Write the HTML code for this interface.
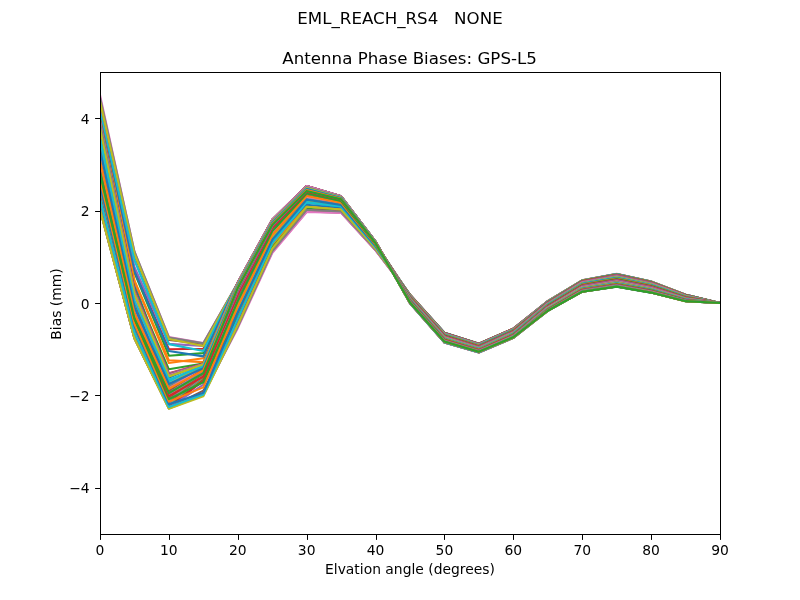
<!DOCTYPE html>
<html lang="en"><head><meta charset="utf-8"><title>Antenna Phase Biases: GPS-L5</title>
<style>
html,body{margin:0;padding:0;background:#fff;}
body{width:800px;height:600px;overflow:hidden;}
svg{display:block;}
text{font-family:"DejaVu Sans","Liberation Sans",sans-serif;fill:#000;white-space:pre;}
.t10{font-size:13.889px;}
.t12{font-size:16.667px;}
.ln path{fill:none;stroke-width:2.083;stroke-linejoin:round;stroke-linecap:square;}
.tk{stroke:#000;stroke-width:1;fill:none;}
</style></head><body>
<svg width="800" height="600" viewBox="0 0 800 600">
<rect x="0" y="0" width="800" height="600" fill="#fff"/>
<defs><clipPath id="ax"><rect x="100" y="72" width="620" height="462"/></clipPath></defs>
<text class="t12" x="400" y="24.37" text-anchor="middle">EML_REACH_RS4   NONE</text>
<text class="t12" x="409.6" y="63.67" text-anchor="middle">Antenna Phase Biases: GPS-L5</text>
<g class="ln" clip-path="url(#ax)">
<path d="M100.00 171.70 L134.44 318.71 L168.89 393.09 L203.33 373.22 L237.78 287.93 L272.22 224.92 L306.67 190.92 L341.11 199.37 L375.56 243.18 L410.00 302.46 L444.44 341.62 L478.89 351.64 L513.33 337.26 L547.78 310.78 L582.22 291.68 L616.67 286.60 L651.11 292.61 L685.56 301.15 L720.00 303.00" stroke="#1f77b4"/>
<path d="M100.00 173.41 L134.44 319.86 L168.89 393.55 L203.33 373.41 L237.78 288.02 L272.22 224.92 L306.67 190.85 L341.11 199.33 L375.56 243.16 L410.00 302.23 L444.44 341.37 L478.89 351.41 L513.33 337.05 L547.78 310.69 L582.22 291.66 L616.67 286.57 L651.11 292.58 L685.56 301.14 L720.00 303.00" stroke="#ff7f0e"/>
<path d="M100.00 175.72 L134.44 321.02 L168.89 394.01 L203.33 373.59 L237.78 288.11 L272.22 224.91 L306.67 190.79 L341.11 199.28 L375.56 243.14 L410.00 301.98 L444.44 341.08 L478.89 351.15 L513.33 336.80 L547.78 310.56 L582.22 291.60 L616.67 286.50 L651.11 292.52 L685.56 301.10 L720.00 303.00" stroke="#2ca02c"/>
<path d="M100.00 178.72 L134.44 322.17 L168.89 394.48 L203.33 373.78 L237.78 288.20 L272.22 224.90 L306.67 190.72 L341.11 199.24 L375.56 243.12 L410.00 301.70 L444.44 340.77 L478.89 350.87 L513.33 336.53 L547.78 310.40 L582.22 291.49 L616.67 286.38 L651.11 292.42 L685.56 301.04 L720.00 303.00" stroke="#d62728"/>
<path d="M100.00 192.35 L134.44 329.33 L168.89 394.94 L203.33 373.96 L237.78 288.30 L272.22 224.89 L306.67 190.66 L341.11 199.20 L375.56 243.10 L410.00 301.41 L444.44 340.43 L478.89 350.56 L513.33 336.23 L547.78 310.20 L582.22 291.34 L616.67 286.22 L651.11 292.27 L685.56 300.96 L720.00 303.00" stroke="#9467bd"/>
<path d="M100.00 194.20 L134.44 330.26 L168.89 395.40 L203.33 374.15 L237.78 288.39 L272.22 224.88 L306.67 190.60 L341.11 199.16 L375.56 243.07 L410.00 301.09 L444.44 340.08 L478.89 350.24 L513.33 335.91 L547.78 309.98 L582.22 291.15 L616.67 286.00 L651.11 292.09 L685.56 300.85 L720.00 303.00" stroke="#8c564b"/>
<path d="M100.00 194.75 L134.44 330.63 L168.89 395.86 L203.33 374.33 L237.78 288.48 L272.22 224.87 L306.67 190.53 L341.11 199.12 L375.56 243.05 L410.00 300.76 L444.44 339.70 L478.89 349.90 L513.33 335.57 L547.78 309.72 L582.22 290.92 L616.67 285.75 L651.11 291.86 L685.56 300.72 L720.00 303.00" stroke="#e377c2"/>
<path d="M100.00 195.31 L134.44 331.00 L168.89 396.32 L203.33 374.52 L237.78 288.57 L272.22 224.87 L306.67 190.47 L341.11 199.08 L375.56 243.03 L410.00 300.42 L444.44 339.31 L478.89 349.55 L513.33 335.21 L547.78 309.43 L582.22 290.66 L616.67 285.45 L651.11 291.60 L685.56 300.57 L720.00 303.00" stroke="#7f7f7f"/>
<path d="M100.00 195.86 L134.44 331.37 L168.89 396.79 L203.33 374.70 L237.78 288.66 L272.22 224.86 L306.67 190.40 L341.11 199.03 L375.56 243.01 L410.00 300.06 L444.44 338.91 L478.89 349.18 L513.33 334.84 L547.78 309.12 L582.22 290.36 L616.67 285.11 L651.11 291.31 L685.56 300.40 L720.00 303.00" stroke="#bcbd22"/>
<path d="M100.00 196.42 L134.44 331.74 L168.89 397.25 L203.33 374.89 L237.78 288.75 L272.22 224.85 L306.67 190.34 L341.11 198.99 L375.56 242.99 L410.00 299.70 L444.44 338.49 L478.89 348.81 L513.33 334.46 L547.78 308.79 L582.22 290.02 L616.67 284.74 L651.11 290.98 L685.56 300.20 L720.00 303.00" stroke="#17becf"/>
<path d="M100.00 196.97 L134.44 332.11 L168.89 397.71 L203.33 375.07 L237.78 288.84 L272.22 224.84 L306.67 190.27 L341.11 198.95 L375.56 242.96 L410.00 299.33 L444.44 338.07 L478.89 348.43 L513.33 334.06 L547.78 308.43 L582.22 289.66 L616.67 284.33 L651.11 290.62 L685.56 300.00 L720.00 303.00" stroke="#1f77b4"/>
<path d="M100.00 197.53 L134.44 332.38 L168.89 398.17 L203.33 375.26 L237.78 289.12 L272.22 225.00 L306.67 190.36 L341.11 199.01 L375.56 243.00 L410.00 298.96 L444.44 337.65 L478.89 348.05 L513.33 333.66 L547.78 308.05 L582.22 289.27 L616.67 283.89 L651.11 290.24 L685.56 299.77 L720.00 303.00" stroke="#ff7f0e"/>
<path d="M100.00 198.08 L134.44 332.66 L168.89 398.63 L203.33 375.44 L237.78 289.39 L272.22 225.16 L306.67 190.46 L341.11 199.07 L375.56 243.03 L410.00 298.59 L444.44 337.23 L478.89 347.66 L513.33 333.26 L547.78 307.66 L582.22 288.85 L616.67 283.42 L651.11 289.83 L685.56 299.54 L720.00 303.00" stroke="#2ca02c"/>
<path d="M100.00 198.63 L134.44 332.94 L168.89 399.10 L203.33 375.63 L237.78 289.67 L272.22 225.32 L306.67 190.55 L341.11 199.13 L375.56 243.06 L410.00 298.22 L444.44 336.81 L478.89 347.28 L513.33 332.86 L547.78 307.26 L582.22 288.41 L616.67 282.93 L651.11 289.40 L685.56 299.28 L720.00 303.00" stroke="#d62728"/>
<path d="M100.00 199.19 L134.44 333.21 L168.89 399.56 L203.33 375.81 L237.78 289.94 L272.22 225.48 L306.67 190.64 L341.11 199.19 L375.56 243.09 L410.00 297.85 L444.44 336.39 L478.89 346.91 L513.33 332.46 L547.78 306.85 L582.22 287.96 L616.67 282.42 L651.11 288.96 L685.56 299.02 L720.00 303.00" stroke="#9467bd"/>
<path d="M100.00 199.74 L134.44 333.49 L168.89 400.02 L203.33 376.00 L237.78 290.22 L272.22 225.64 L306.67 190.73 L341.11 199.25 L375.56 243.12 L410.00 297.50 L444.44 335.99 L478.89 346.54 L513.33 332.07 L547.78 306.43 L582.22 287.49 L616.67 281.89 L651.11 288.50 L685.56 298.76 L720.00 303.00" stroke="#8c564b"/>
<path d="M100.00 200.30 L134.44 333.77 L168.89 400.48 L203.33 376.18 L237.78 290.49 L272.22 225.80 L306.67 190.83 L341.11 199.31 L375.56 243.15 L410.00 297.15 L444.44 335.60 L478.89 346.19 L513.33 331.68 L547.78 306.00 L582.22 287.00 L616.67 281.35 L651.11 288.02 L685.56 298.48 L720.00 303.00" stroke="#e377c2"/>
<path d="M100.00 200.85 L134.44 334.05 L168.89 400.94 L203.33 376.37 L237.78 290.77 L272.22 225.96 L306.67 190.92 L341.11 199.37 L375.56 243.18 L410.00 296.82 L444.44 335.22 L478.89 345.85 L513.33 331.31 L547.78 305.58 L582.22 286.51 L616.67 280.80 L651.11 287.54 L685.56 298.20 L720.00 303.00" stroke="#7f7f7f"/>
<path d="M100.00 201.41 L134.44 334.32 L168.89 401.41 L203.33 376.55 L237.78 291.04 L272.22 226.12 L306.67 191.01 L341.11 199.43 L375.56 243.22 L410.00 296.51 L444.44 334.87 L478.89 345.53 L513.33 330.95 L547.78 305.16 L582.22 286.02 L616.67 280.25 L651.11 287.06 L685.56 297.92 L720.00 303.00" stroke="#bcbd22"/>
<path d="M100.00 201.96 L134.44 334.60 L168.89 401.87 L203.33 376.74 L237.78 291.31 L272.22 226.27 L306.67 191.10 L341.11 199.49 L375.56 243.25 L410.00 296.21 L444.44 334.53 L478.89 345.22 L513.33 330.61 L547.78 304.75 L582.22 285.53 L616.67 279.69 L651.11 286.58 L685.56 297.64 L720.00 303.00" stroke="#17becf"/>
<path d="M100.00 202.51 L134.44 334.88 L168.89 402.33 L203.33 376.92 L237.78 291.59 L272.22 226.43 L306.67 191.20 L341.11 199.54 L375.56 243.28 L410.00 295.94 L444.44 334.22 L478.89 344.94 L513.33 330.29 L547.78 304.34 L582.22 285.04 L616.67 279.14 L651.11 286.10 L685.56 297.36 L720.00 303.00" stroke="#1f77b4"/>
<path d="M100.00 203.07 L134.44 335.16 L168.89 402.75 L203.33 377.10 L237.78 293.11 L272.22 227.43 L306.67 191.89 L341.11 199.99 L375.56 243.51 L410.00 295.68 L444.44 333.93 L478.89 344.68 L513.33 329.99 L547.78 303.95 L582.22 284.56 L616.67 278.60 L651.11 285.63 L685.56 297.08 L720.00 303.00" stroke="#ff7f0e"/>
<path d="M100.00 203.62 L134.44 335.43 L168.89 403.16 L203.33 377.29 L237.78 294.64 L272.22 228.43 L306.67 192.58 L341.11 200.44 L375.56 243.75 L410.00 295.46 L444.44 333.68 L478.89 344.45 L513.33 329.72 L547.78 303.58 L582.22 284.09 L616.67 278.07 L651.11 285.16 L685.56 296.81 L720.00 303.00" stroke="#2ca02c"/>
<path d="M100.00 204.18 L134.44 335.71 L168.89 403.58 L203.33 377.47 L237.78 296.16 L272.22 229.58 L306.67 193.51 L341.11 201.03 L375.56 244.06 L410.00 295.26 L444.44 333.45 L478.89 344.24 L513.33 329.48 L547.78 303.22 L582.22 283.63 L616.67 277.56 L651.11 284.72 L685.56 296.55 L720.00 303.00" stroke="#d62728"/>
<path d="M100.00 204.73 L134.44 335.99 L168.89 403.99 L203.33 377.66 L237.78 297.69 L272.22 230.73 L306.67 194.43 L341.11 201.62 L375.56 244.38 L410.00 295.08 L444.44 333.25 L478.89 344.07 L513.33 329.26 L547.78 302.88 L582.22 283.19 L616.67 277.07 L651.11 284.29 L685.56 296.30 L720.00 303.00" stroke="#9467bd"/>
<path d="M100.00 205.29 L134.44 336.26 L168.89 404.41 L203.33 377.84 L237.78 299.21 L272.22 232.18 L306.67 195.82 L341.11 202.51 L375.56 244.85 L410.00 294.94 L444.44 333.09 L478.89 343.92 L513.33 329.07 L547.78 302.57 L582.22 282.78 L616.67 276.60 L651.11 283.88 L685.56 296.06 L720.00 303.00" stroke="#8c564b"/>
<path d="M100.00 205.84 L134.44 336.54 L168.89 404.82 L203.33 378.03 L237.78 300.74 L272.22 233.62 L306.67 197.20 L341.11 203.41 L375.56 245.32 L410.00 294.83 L444.44 332.96 L478.89 343.81 L513.33 328.92 L547.78 302.29 L582.22 282.38 L616.67 276.16 L651.11 283.50 L685.56 295.84 L720.00 303.00" stroke="#e377c2"/>
<path d="M100.00 206.40 L134.44 336.82 L168.89 405.24 L203.33 378.21 L237.78 303.59 L272.22 235.77 L306.67 198.93 L341.11 204.52 L375.56 245.90 L410.00 294.75 L444.44 332.87 L478.89 343.72 L513.33 328.80 L547.78 302.03 L582.22 282.02 L616.67 275.75 L651.11 283.14 L685.56 295.63 L720.00 303.00" stroke="#7f7f7f"/>
<path d="M100.00 206.95 L134.44 337.10 L168.89 405.66 L203.33 378.40 L237.78 306.45 L272.22 237.93 L306.67 200.67 L341.11 205.63 L375.56 246.49 L410.00 294.70 L444.44 332.82 L478.89 343.67 L513.33 328.71 L547.78 301.80 L582.22 281.69 L616.67 275.38 L651.11 282.81 L685.56 295.44 L720.00 303.00" stroke="#bcbd22"/>
<path d="M100.00 207.50 L134.44 337.37 L168.89 406.07 L203.33 378.58 L237.78 309.31 L272.22 240.30 L306.67 202.75 L341.11 206.97 L375.56 247.20 L410.00 294.68 L444.44 332.80 L478.89 343.66 L513.33 328.66 L547.78 301.61 L582.22 281.39 L616.67 275.04 L651.11 282.52 L685.56 295.27 L720.00 303.00" stroke="#17becf"/>
<path d="M100.00 208.06 L134.44 337.65 L168.89 406.49 L203.33 378.77 L237.78 312.17 L272.22 242.68 L306.67 204.82 L341.11 208.31 L375.56 247.90 L410.00 294.70 L444.44 332.82 L478.89 343.67 L513.33 328.64 L547.78 301.44 L582.22 281.12 L616.67 274.75 L651.11 282.26 L685.56 295.12 L720.00 303.00" stroke="#1f77b4"/>
<path d="M100.00 208.29 L134.44 337.77 L168.89 406.78 L203.33 379.38 L237.78 315.26 L272.22 245.06 L306.67 206.79 L341.11 209.57 L375.56 248.57 L410.00 294.75 L444.44 332.87 L478.89 343.72 L513.33 328.66 L547.78 301.32 L582.22 280.89 L616.67 274.49 L651.11 282.04 L685.56 294.99 L720.00 303.00" stroke="#ff7f0e"/>
<path d="M100.00 208.52 L134.44 337.88 L168.89 407.07 L203.33 380.00 L237.78 318.35 L272.22 247.45 L306.67 208.75 L341.11 210.83 L375.56 249.23 L410.00 294.83 L444.44 332.96 L478.89 343.81 L513.33 328.71 L547.78 301.23 L582.22 280.70 L616.67 274.28 L651.11 281.85 L685.56 294.88 L720.00 303.00" stroke="#2ca02c"/>
<path d="M100.00 208.75 L134.44 338.00 L168.89 407.35 L203.33 380.62 L237.78 321.43 L272.22 249.31 L306.67 209.91 L341.11 211.57 L375.56 249.63 L410.00 294.94 L444.44 333.09 L478.89 343.92 L513.33 328.80 L547.78 301.17 L582.22 280.55 L616.67 274.11 L651.11 281.71 L685.56 294.79 L720.00 303.00" stroke="#d62728"/>
<path d="M100.00 208.98 L134.44 338.11 L168.89 407.64 L203.33 384.68 L237.78 324.52 L272.22 251.18 L306.67 211.06 L341.11 212.32 L375.56 250.02 L410.00 295.08 L444.44 333.25 L478.89 344.07 L513.33 328.92 L547.78 301.15 L582.22 280.45 L616.67 273.99 L651.11 281.60 L685.56 294.73 L720.00 303.00" stroke="#9467bd"/>
<path d="M100.00 209.21 L134.44 338.23 L168.89 407.93 L203.33 390.69 L237.78 326.35 L272.22 252.14 L306.67 211.52 L341.11 212.61 L375.56 250.18 L410.00 295.26 L444.44 333.45 L478.89 344.24 L513.33 329.07 L547.78 301.17 L582.22 280.38 L616.67 273.92 L651.11 281.54 L685.56 294.70 L720.00 303.00" stroke="#8c564b"/>
<path d="M100.00 209.44 L134.44 338.34 L168.89 408.22 L203.33 393.55 L237.78 328.18 L272.22 253.10 L306.67 211.99 L341.11 212.91 L375.56 250.33 L410.00 295.46 L444.44 333.68 L478.89 344.45 L513.33 329.26 L547.78 301.23 L582.22 280.36 L616.67 273.89 L651.11 281.52 L685.56 294.68 L720.00 303.00" stroke="#e377c2"/>
<path d="M100.00 209.68 L134.44 338.46 L168.89 408.51 L203.33 395.40 L237.78 326.81 L272.22 251.21 L306.67 209.81 L341.11 211.51 L375.56 249.60 L410.00 295.68 L444.44 333.93 L478.89 344.68 L513.33 329.48 L547.78 301.32 L582.22 280.38 L616.67 273.92 L651.11 281.54 L685.56 294.70 L720.00 303.00" stroke="#7f7f7f"/>
<path d="M100.00 209.91 L134.44 338.57 L168.89 408.80 L203.33 396.32 L237.78 324.98 L272.22 248.61 L306.67 206.81 L341.11 209.58 L375.56 248.58 L410.00 295.94 L444.44 334.22 L478.89 344.94 L513.33 329.72 L547.78 301.44 L582.22 280.45 L616.67 273.99 L651.11 281.60 L685.56 294.73 L720.00 303.00" stroke="#bcbd22"/>
<path d="M100.00 199.10 L134.44 332.57 L168.89 406.95 L203.33 394.48 L237.78 319.03 L272.22 243.36 L306.67 202.01 L341.11 206.49 L375.56 246.95 L410.00 296.21 L444.44 334.53 L478.89 345.22 L513.33 329.99 L547.78 301.61 L582.22 280.55 L616.67 274.11 L651.11 281.71 L685.56 294.79 L720.00 303.00" stroke="#17becf"/>
<path d="M100.00 185.65 L134.44 326.10 L168.89 404.18 L203.33 392.81 L237.78 312.86 L272.22 239.57 L306.67 199.60 L341.11 204.95 L375.56 246.13 L410.00 296.51 L444.44 334.87 L478.89 345.53 L513.33 330.29 L547.78 301.80 L582.22 280.70 L616.67 274.28 L651.11 281.85 L685.56 294.88 L720.00 303.00" stroke="#1f77b4"/>
<path d="M100.00 179.41 L134.44 323.79 L168.89 401.64 L203.33 387.41 L237.78 306.68 L272.22 235.01 L306.67 196.00 L341.11 202.63 L375.56 244.91 L410.00 296.82 L444.44 335.22 L478.89 345.85 L513.33 330.61 L547.78 302.03 L582.22 280.89 L616.67 274.49 L651.11 282.04 L685.56 294.99 L720.00 303.00" stroke="#ff7f0e"/>
<path d="M100.00 173.78 L134.44 318.25 L168.89 399.10 L203.33 382.28 L237.78 300.74 L272.22 231.24 L306.67 193.51 L341.11 201.03 L375.56 244.06 L410.00 297.15 L444.44 335.60 L478.89 346.19 L513.33 330.95 L547.78 302.29 L582.22 281.12 L616.67 274.75 L651.11 282.26 L685.56 295.12 L720.00 303.00" stroke="#2ca02c"/>
<path d="M100.00 168.14 L134.44 312.70 L168.89 396.09 L203.33 376.60 L237.78 294.56 L272.22 227.81 L306.67 191.66 L341.11 199.84 L375.56 243.44 L410.00 297.50 L444.44 335.99 L478.89 346.54 L513.33 331.31 L547.78 302.57 L582.22 281.39 L616.67 275.04 L651.11 282.52 L685.56 295.27 L720.00 303.00" stroke="#d62728"/>
<path d="M100.00 162.51 L134.44 307.16 L168.89 393.09 L203.33 371.38 L237.78 291.59 L272.22 226.14 L306.67 190.73 L341.11 199.25 L375.56 243.12 L410.00 297.85 L444.44 336.39 L478.89 346.91 L513.33 331.68 L547.78 302.88 L582.22 281.69 L616.67 275.38 L651.11 282.81 L685.56 295.44 L720.00 303.00" stroke="#9467bd"/>
<path d="M100.00 156.87 L134.44 301.61 L168.89 390.78 L203.33 368.60 L237.78 290.22 L272.22 225.04 L306.67 189.81 L341.11 198.65 L375.56 242.81 L410.00 298.22 L444.44 336.81 L478.89 347.28 L513.33 332.07 L547.78 303.22 L582.22 282.02 L616.67 275.75 L651.11 283.14 L685.56 295.63 L720.00 303.00" stroke="#8c564b"/>
<path d="M100.00 151.23 L134.44 296.07 L168.89 388.47 L203.33 366.76 L237.78 288.84 L272.22 224.25 L306.67 189.35 L341.11 198.36 L375.56 242.65 L410.00 298.59 L444.44 337.23 L478.89 347.66 L513.33 332.46 L547.78 303.58 L582.22 282.38 L616.67 276.16 L651.11 283.50 L685.56 295.84 L720.00 303.00" stroke="#e377c2"/>
<path d="M100.00 145.60 L134.44 291.91 L168.89 386.16 L203.33 365.83 L237.78 288.04 L272.22 223.66 L306.67 188.89 L341.11 198.06 L375.56 242.49 L410.00 298.96 L444.44 337.65 L478.89 348.05 L513.33 332.86 L547.78 303.95 L582.22 282.78 L616.67 276.60 L651.11 283.88 L685.56 296.06 L720.00 303.00" stroke="#7f7f7f"/>
<path d="M100.00 139.96 L134.44 288.68 L168.89 383.85 L203.33 364.91 L237.78 287.24 L272.22 223.07 L306.67 188.42 L341.11 197.76 L375.56 242.34 L410.00 299.33 L444.44 338.07 L478.89 348.43 L513.33 333.26 L547.78 304.34 L582.22 283.19 L616.67 277.07 L651.11 284.29 L685.56 296.30 L720.00 303.00" stroke="#bcbd22"/>
<path d="M100.00 134.32 L134.44 286.37 L168.89 381.54 L203.33 363.98 L237.78 286.44 L272.22 222.48 L306.67 187.96 L341.11 197.47 L375.56 242.18 L410.00 299.70 L444.44 338.49 L478.89 348.81 L513.33 333.66 L547.78 304.75 L582.22 283.63 L616.67 277.56 L651.11 284.72 L685.56 296.55 L720.00 303.00" stroke="#17becf"/>
<path d="M100.00 128.69 L134.44 284.06 L168.89 377.84 L203.33 363.06 L237.78 285.64 L272.22 221.90 L306.67 187.50 L341.11 197.17 L375.56 242.02 L410.00 300.06 L444.44 338.91 L478.89 349.18 L513.33 334.06 L547.78 305.16 L582.22 284.09 L616.67 278.07 L651.11 285.16 L685.56 296.81 L720.00 303.00" stroke="#1f77b4"/>
<path d="M100.00 123.05 L134.44 281.29 L168.89 363.06 L203.33 358.21 L237.78 285.19 L272.22 221.61 L306.67 187.31 L341.11 197.05 L375.56 241.96 L410.00 300.42 L444.44 339.31 L478.89 349.55 L513.33 334.46 L547.78 305.58 L582.22 284.56 L616.67 278.60 L651.11 285.63 L685.56 297.08 L720.00 303.00" stroke="#ff7f0e"/>
<path d="M100.00 117.41 L134.44 272.51 L168.89 355.67 L203.33 353.13 L237.78 284.73 L272.22 221.32 L306.67 187.12 L341.11 196.92 L375.56 241.89 L410.00 300.76 L444.44 339.70 L478.89 349.90 L513.33 334.84 L547.78 306.00 L582.22 285.04 L616.67 279.14 L651.11 286.10 L685.56 297.36 L720.00 303.00" stroke="#2ca02c"/>
<path d="M100.00 111.78 L134.44 270.66 L168.89 349.20 L203.33 348.74 L237.78 284.27 L272.22 221.03 L306.67 186.92 L341.11 196.80 L375.56 241.83 L410.00 301.09 L444.44 340.08 L478.89 350.24 L513.33 335.21 L547.78 306.43 L582.22 285.53 L616.67 279.69 L651.11 286.58 L685.56 297.64 L720.00 303.00" stroke="#d62728"/>
<path d="M100.00 106.14 L134.44 266.96 L168.89 343.89 L203.33 345.97 L237.78 283.81 L272.22 220.73 L306.67 186.73 L341.11 196.67 L375.56 241.76 L410.00 301.41 L444.44 340.43 L478.89 350.56 L513.33 335.57 L547.78 306.85 L582.22 286.02 L616.67 280.25 L651.11 287.06 L685.56 297.92 L720.00 303.00" stroke="#9467bd"/>
<path d="M100.00 100.51 L134.44 255.41 L168.89 339.96 L203.33 343.89 L237.78 283.36 L272.22 220.44 L306.67 186.54 L341.11 196.55 L375.56 241.70 L410.00 301.70 L444.44 340.77 L478.89 350.87 L513.33 335.91 L547.78 307.26 L582.22 286.51 L616.67 280.80 L651.11 287.54 L685.56 298.20 L720.00 303.00" stroke="#8c564b"/>
<path d="M100.00 94.87 L134.44 251.72 L168.89 336.96 L203.33 342.96 L237.78 282.90 L272.22 220.15 L306.67 186.34 L341.11 196.43 L375.56 241.63 L410.00 301.98 L444.44 341.08 L478.89 351.15 L513.33 336.23 L547.78 307.66 L582.22 287.00 L616.67 281.35 L651.11 288.02 L685.56 298.48 L720.00 303.00" stroke="#e377c2"/>
<path d="M100.00 97.41 L134.44 251.49 L168.89 337.42 L203.33 343.19 L237.78 282.78 L272.22 220.08 L306.67 186.29 L341.11 196.39 L375.56 241.61 L410.00 302.23 L444.44 341.37 L478.89 351.41 L513.33 336.53 L547.78 308.05 L582.22 287.49 L616.67 281.89 L651.11 288.50 L685.56 298.76 L720.00 303.00" stroke="#7f7f7f"/>
<path d="M100.00 101.57 L134.44 254.03 L168.89 339.04 L203.33 345.97 L237.78 282.67 L272.22 220.00 L306.67 186.23 L341.11 196.35 L375.56 241.59 L410.00 302.46 L444.44 341.62 L478.89 351.64 L513.33 336.80 L547.78 308.43 L582.22 287.96 L616.67 282.42 L651.11 288.96 L685.56 299.02 L720.00 303.00" stroke="#bcbd22"/>
<path d="M100.00 112.42 L134.44 260.26 L168.89 344.12 L203.33 351.05 L237.78 282.56 L272.22 219.92 L306.67 186.17 L341.11 196.32 L375.56 241.57 L410.00 302.66 L444.44 341.85 L478.89 351.85 L513.33 337.05 L547.78 308.79 L582.22 288.41 L616.67 282.93 L651.11 289.40 L685.56 299.28 L720.00 303.00" stroke="#17becf"/>
<path d="M100.00 118.43 L134.44 271.35 L168.89 351.05 L203.33 356.36 L237.78 282.44 L272.22 219.84 L306.67 186.11 L341.11 196.28 L375.56 241.55 L410.00 302.83 L444.44 342.05 L478.89 352.02 L513.33 337.26 L547.78 309.12 L582.22 288.85 L616.67 283.42 L651.11 289.83 L685.56 299.54 L720.00 303.00" stroke="#1f77b4"/>
<path d="M100.00 119.35 L134.44 280.36 L168.89 360.29 L203.33 362.14 L237.78 282.44 L272.22 219.84 L306.67 186.11 L341.11 196.28 L375.56 241.55 L410.00 302.97 L444.44 342.21 L478.89 352.17 L513.33 337.45 L547.78 309.43 L582.22 289.27 L616.67 283.89 L651.11 290.24 L685.56 299.77 L720.00 303.00" stroke="#ff7f0e"/>
<path d="M100.00 120.05 L134.44 289.14 L168.89 369.30 L203.33 363.52 L237.78 282.44 L272.22 219.84 L306.67 186.11 L341.11 196.28 L375.56 241.55 L410.00 303.09 L444.44 342.34 L478.89 352.28 L513.33 337.60 L547.78 309.72 L582.22 289.66 L616.67 284.33 L651.11 290.62 L685.56 300.00 L720.00 303.00" stroke="#2ca02c"/>
<path d="M100.00 120.74 L134.44 290.06 L168.89 373.22 L203.33 363.75 L237.78 282.44 L272.22 219.84 L306.67 186.11 L341.11 196.28 L375.56 241.55 L410.00 303.17 L444.44 342.43 L478.89 352.37 L513.33 337.72 L547.78 309.98 L582.22 290.02 L616.67 284.74 L651.11 290.98 L685.56 300.20 L720.00 303.00" stroke="#d62728"/>
<path d="M100.00 121.20 L134.44 290.99 L168.89 373.69 L203.33 363.98 L237.78 282.44 L272.22 219.84 L306.67 186.11 L341.11 196.28 L375.56 241.55 L410.00 303.21 L444.44 342.48 L478.89 352.42 L513.33 337.81 L547.78 310.20 L582.22 290.36 L616.67 285.11 L651.11 291.31 L685.56 300.40 L720.00 303.00" stroke="#9467bd"/>
<path d="M100.00 121.66 L134.44 291.91 L168.89 374.61 L203.33 364.22 L237.78 282.44 L272.22 219.84 L306.67 186.11 L341.11 196.28 L375.56 241.55 L410.00 303.23 L444.44 342.50 L478.89 352.43 L513.33 337.86 L547.78 310.40 L582.22 290.66 L616.67 285.45 L651.11 291.60 L685.56 300.57 L720.00 303.00" stroke="#8c564b"/>
<path d="M100.00 122.13 L134.44 292.84 L168.89 375.30 L203.33 364.33 L237.78 282.44 L272.22 219.84 L306.67 186.11 L341.11 196.28 L375.56 241.55 L410.00 303.21 L444.44 342.48 L478.89 352.42 L513.33 337.88 L547.78 310.56 L582.22 290.92 L616.67 285.75 L651.11 291.86 L685.56 300.72 L720.00 303.00" stroke="#e377c2"/>
<path d="M100.00 122.59 L134.44 293.76 L168.89 376.00 L203.33 364.45 L237.78 283.36 L272.22 220.77 L306.67 187.04 L341.11 196.87 L375.56 241.87 L410.00 303.17 L444.44 342.43 L478.89 352.37 L513.33 337.86 L547.78 310.69 L582.22 291.15 L616.67 286.00 L651.11 292.09 L685.56 300.85 L720.00 303.00" stroke="#7f7f7f"/>
<path d="M100.00 128.36 L134.44 294.22 L168.89 376.46 L203.33 364.58 L237.78 284.27 L272.22 221.69 L306.67 187.96 L341.11 197.47 L375.56 242.18 L410.00 303.09 L444.44 342.34 L478.89 352.28 L513.33 337.81 L547.78 310.78 L582.22 291.34 L616.67 286.22 L651.11 292.27 L685.56 300.96 L720.00 303.00" stroke="#bcbd22"/>
<path d="M100.00 139.22 L134.44 300.69 L168.89 379.69 L203.33 366.39 L237.78 285.19 L272.22 222.47 L306.67 188.65 L341.11 197.91 L375.56 242.42 L410.00 302.97 L444.44 342.21 L478.89 352.17 L513.33 337.72 L547.78 310.84 L582.22 291.49 L616.67 286.38 L651.11 292.42 L685.56 301.04 L720.00 303.00" stroke="#17becf"/>
<path d="M100.00 150.08 L134.44 307.16 L168.89 383.99 L203.33 368.14 L237.78 286.10 L272.22 223.10 L306.67 189.12 L341.11 198.21 L375.56 242.57 L410.00 302.83 L444.44 342.05 L478.89 352.02 L513.33 337.60 L547.78 310.85 L582.22 291.60 L616.67 286.50 L651.11 292.52 L685.56 301.10 L720.00 303.00" stroke="#1f77b4"/>
<path d="M100.00 160.93 L134.44 313.16 L168.89 388.79 L203.33 370.31 L237.78 287.01 L272.22 224.00 L306.67 189.99 L341.11 198.77 L375.56 242.87 L410.00 302.66 L444.44 341.85 L478.89 351.85 L513.33 337.45 L547.78 310.84 L582.22 291.66 L616.67 286.57 L651.11 292.58 L685.56 301.14 L720.00 303.00" stroke="#ff7f0e"/>
<path d="M100.00 171.70 L134.44 318.71 L168.89 393.09 L203.33 373.22 L237.78 287.93 L272.22 224.92 L306.67 190.92 L341.11 199.37 L375.56 243.18 L410.00 302.46 L444.44 341.62 L478.89 351.64 L513.33 337.26 L547.78 310.78 L582.22 291.68 L616.67 286.60 L651.11 292.61 L685.56 301.15 L720.00 303.00" stroke="#2ca02c"/>
</g>
<g class="tk">
<path d="M100.5 534.5V539.9"/><path d="M169.5 534.5V539.9"/><path d="M238.5 534.5V539.9"/><path d="M307.5 534.5V539.9"/><path d="M376.5 534.5V539.9"/><path d="M444.5 534.5V539.9"/><path d="M513.5 534.5V539.9"/><path d="M582.5 534.5V539.9"/><path d="M651.5 534.5V539.9"/><path d="M720.5 534.5V539.9"/><path d="M95.1 118.5H100.5"/><path d="M95.1 211.5H100.5"/><path d="M95.1 303.5H100.5"/><path d="M95.1 395.5H100.5"/><path d="M95.1 488.5H100.5"/>
<rect x="100.5" y="72.5" width="620" height="462"/>
</g>
<text class="t10" x="100.00" y="555.2" text-anchor="middle">0</text>
<text class="t10" x="168.89" y="555.2" text-anchor="middle">10</text>
<text class="t10" x="237.78" y="555.2" text-anchor="middle">20</text>
<text class="t10" x="306.67" y="555.2" text-anchor="middle">30</text>
<text class="t10" x="375.56" y="555.2" text-anchor="middle">40</text>
<text class="t10" x="444.44" y="555.2" text-anchor="middle">50</text>
<text class="t10" x="513.33" y="555.2" text-anchor="middle">60</text>
<text class="t10" x="582.22" y="555.2" text-anchor="middle">70</text>
<text class="t10" x="651.11" y="555.2" text-anchor="middle">80</text>
<text class="t10" x="720.00" y="555.2" text-anchor="middle">90</text>
<text class="t10" x="89.7" y="123.80" text-anchor="end">4</text>
<text class="t10" x="89.7" y="216.20" text-anchor="end">2</text>
<text class="t10" x="89.7" y="308.60" text-anchor="end">0</text>
<text class="t10" x="89.7" y="401.00" text-anchor="end">−2</text>
<text class="t10" x="89.7" y="493.40" text-anchor="end">−4</text>
<text class="t10" x="410" y="574.2" text-anchor="middle">Elvation angle (degrees)</text>
<text class="t10" x="61.36" y="304" text-anchor="middle" transform="rotate(-90 61.36 304)">Bias (mm)</text>
</svg>
</body></html>
